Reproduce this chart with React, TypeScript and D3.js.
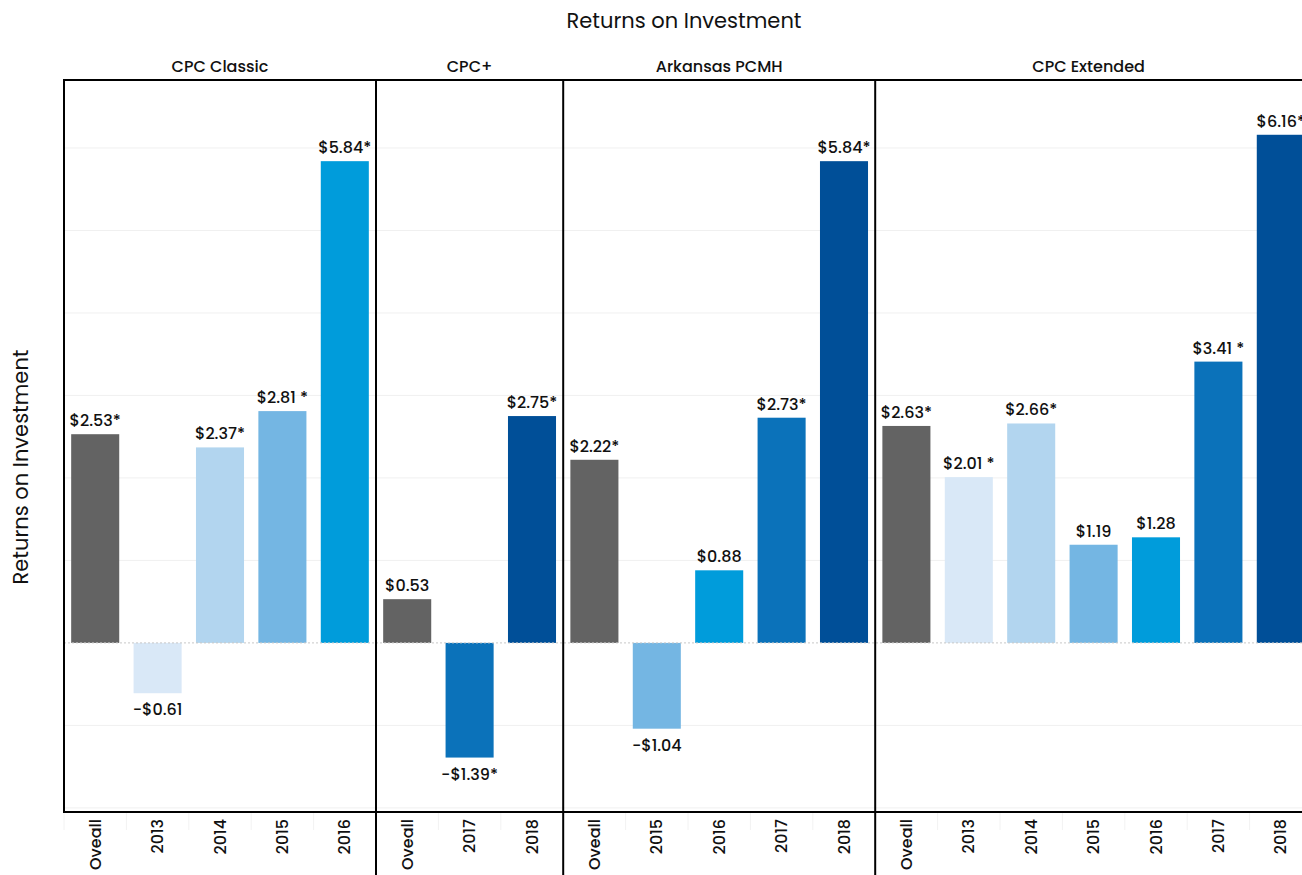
import React from "react";
import * as d3 from "d3";

const panels = ["CPC Classic", "CPC+", "Arkansas PCMH", "CPC Extended"];
const panelCategories: string[][] = [
  ["Oveall", "2013", "2014", "2015", "2016"],
  ["Oveall", "2017", "2018"],
  ["Oveall", "2015", "2016", "2017", "2018"],
  ["Oveall", "2013", "2014", "2015", "2016", "2017", "2018"],
];
const panelValues: number[][] = [
  [2.53, -0.61, 2.37, 2.81, 5.84],
  [0.53, -1.39, 2.75],
  [2.22, -1.04, 0.88, 2.73, 5.84],
  [2.63, 2.01, 2.66, 1.19, 1.28, 3.41, 6.16],
];
const panelLabels: string[][] = [
  ["$2.53*", "-$0.61", "$2.37*", "$2.81 *", "$5.84*"],
  ["$0.53", "-$1.39*", "$2.75*"],
  ["$2.22*", "-$1.04", "$0.88", "$2.73*", "$5.84*"],
  ["$2.63*", "$2.01 *", "$2.66*", "$1.19", "$1.28", "$3.41 *", "$6.16*"],
];
const yTicks = [-2, -1, 0, 1, 2, 3, 4, 5, 6];
const colorKeys = ["Oveall", "2013", "2014", "2015", "2016", "2017", "2018"];
const colorValues = ["#636363", "#d9e8f7", "#b2d5ef", "#74b6e3", "#009cdb", "#0b72ba", "#004f98"];

const W = 1302;
const H = 875;
const left = 64;
const right = 1312;
const top = 80;
const bottom = 812;
const FONT = "Poppins, Inter, 'Open Sans', sans-serif";

export default function App() {
  const keys: string[] = [];
  panelCategories.forEach((cats, p) => cats.forEach((c) => keys.push(`${p}|${c}`)));
  const x = d3.scaleBand<string>().domain(keys).range([left, right]).paddingInner(0.23).paddingOuter(0.115);
  const step = x.step();
  const y = d3.scaleLinear().domain([-2.05, 6.824]).range([bottom, top]);
  const color = d3.scaleOrdinal<string, string>().domain(colorKeys).range(colorValues);

  const panelStarts: number[] = [];
  let cum = 0;
  panelCategories.forEach((cats) => {
    panelStarts.push(left + cum * step);
    cum += cats.length;
  });
  const panelEnds = panelCategories.map((cats, i) => panelStarts[i] + cats.length * step);

  return (
    <svg width={W} height={H} style={{ position: "absolute", left: 0, top: 0 }} fontFamily={FONT}>
      <rect width={W} height={H} fill="#fff" />
      <text x={684} y={20} textAnchor="middle" dominantBaseline="central" fontSize={21} fontWeight={400} fill="#111">
        Returns on Investment
      </text>
      <text
        transform={`translate(20,467) rotate(-90)`}
        textAnchor="middle"
        dominantBaseline="central"
        fontSize={21}
        fontWeight={400}
        fill="#111"
      >
        Returns on Investment
      </text>
      {yTicks.filter((t) => t !== 0).map((t) => (
        <line key={t} x1={left} x2={right} y1={y(t)} y2={y(t)} stroke="#f0f0f0" strokeWidth={1} />
      ))}
      {keys.map((k) => (
        <line
          key={"sep" + k}
          x1={(x(k) as number) - (step - x.bandwidth()) / 2}
          x2={(x(k) as number) - (step - x.bandwidth()) / 2}
          y1={bottom}
          y2={bottom + 18}
          stroke="#f2f2f2"
        />
      ))}
      {panelCategories.map((cats, p) =>
        cats.map((c, i) => {
          const v = panelValues[p][i];
          const k = `${p}|${c}`;
          const bx = x(k) as number;
          const y0 = y(Math.max(0, v));
          const y1 = y(Math.min(0, v));
          return (
            <g key={k}>
              <rect x={bx} y={y0} width={x.bandwidth()} height={y1 - y0} fill={color(c)} />
              <text
                x={bx + x.bandwidth() / 2}
                y={v >= 0 ? y(v) - 8 : y(v) + 22}
                textAnchor="middle"
                fontSize={16}
                fontWeight={500}
                fill="#111"
              >
                {panelLabels[p][i]}
              </text>
              <text
                transform={`translate(${bx + x.bandwidth() / 2},${bottom + 7}) rotate(-90)`}
                textAnchor="end"
                dominantBaseline="central"
                fontSize={16}
                fontWeight={500}
                fill="#111"
              >
                {c}
              </text>
            </g>
          );
        })
      )}
      <line x1={left} x2={right} y1={y(0)} y2={y(0)} stroke="#c8c8c8" strokeDasharray="2,2" strokeWidth={1} />
      {panels.map((name, p) => (
        <text
          key={name}
          x={(panelStarts[p] + Math.min(panelEnds[p], W)) / 2}
          y={66}
          textAnchor="middle"
          dominantBaseline="central"
          fontSize={16}
          fontWeight={500}
          fill="#111"
        >
          {name}
        </text>
      ))}
      <line x1={left} x2={right} y1={top} y2={top} stroke="#000" strokeWidth={2} />
      <line x1={left} x2={right} y1={bottom} y2={bottom} stroke="#000" strokeWidth={2} />
      <line x1={left} x2={left} y1={top - 1} y2={bottom + 1} stroke="#000" strokeWidth={2} />
      {panelStarts.slice(1).map((px, i) => (
        <line key={"div" + i} x1={px} x2={px} y1={top} y2={H} stroke="#000" strokeWidth={2} />
      ))}
    </svg>
  );
}
